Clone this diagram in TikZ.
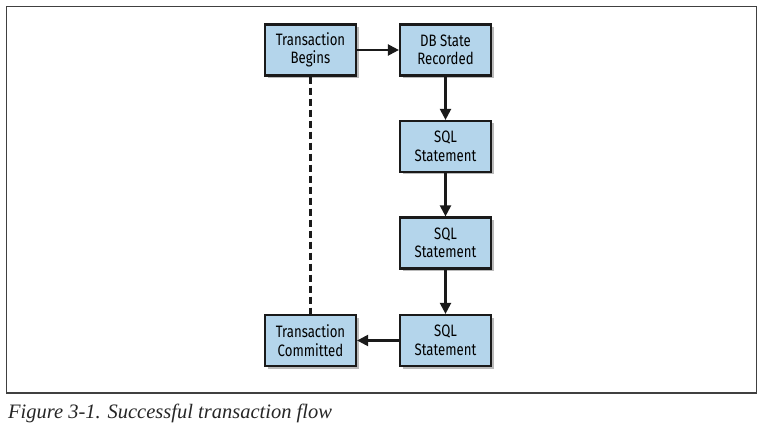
\documentclass[tikz,border=0pt]{standalone}
\usepackage{fontspec}
\setmainfont{Liberation Serif}
\newfontfamily\boxfont[FakeStretch=0.8]{Fira Sans}
\usetikzlibrary{arrows.meta,shadows}
\definecolor{boxfill}{HTML}{B4D5EB}
\definecolor{edge}{HTML}{1A1A1A}
\tikzset{
  stepbox/.style={draw=edge, line width=2.2pt, fill=boxfill, minimum width=91pt, minimum height=51pt,
    inner sep=0pt, align=center, font=\boxfont\fontsize{16.5}{18.5}\selectfont,
    drop shadow={shadow xshift=2.5pt, shadow yshift=-2.5pt, opacity=0.45, fill=black!60}},
  flow/.style={draw=edge, line width=2.2pt, -{Triangle[length=11pt,width=11pt]}},
  dashlink/.style={draw=edge, line width=2.2pt, dash pattern=on 7pt off 4pt}
}
\begin{document}
\begin{tikzpicture}[x=1pt,y=-1pt]
\useasboundingbox (0,0) rectangle (768,430);
\draw[line width=1.6pt, draw=black!75] (6.5,6.5) rectangle (756.5,393) ;
\node[stepbox] (tb) at (310.5,50) {Transaction\\Begins};
\node[stepbox] (db) at (445.5,50) {DB State\\Recorded};
\node[stepbox] (s1) at (445.5,146.5) {SQL\\Statement};
\node[stepbox] (s2) at (445.5,243) {SQL\\Statement};
\node[stepbox] (s3) at (445.5,340.5) {SQL\\Statement};
\node[stepbox] (tc) at (310.5,340.5) {Transaction\\Committed};
\draw[flow] (tb) -- (db);
\draw[flow] (db) -- (s1);
\draw[flow] (s1) -- (s2);
\draw[flow] (s2) -- (s3);
\draw[flow] (s3) -- (tc);
\draw[dashlink] (tb.south) -- (tc.north);
\node[anchor=base west, inner sep=0pt, font=\itshape\fontsize{20.5}{24}\selectfont, text=black!85] (cap) at (8,418) {Figure 3-1. Successful transaction flow};
\end{tikzpicture}
\end{document}
